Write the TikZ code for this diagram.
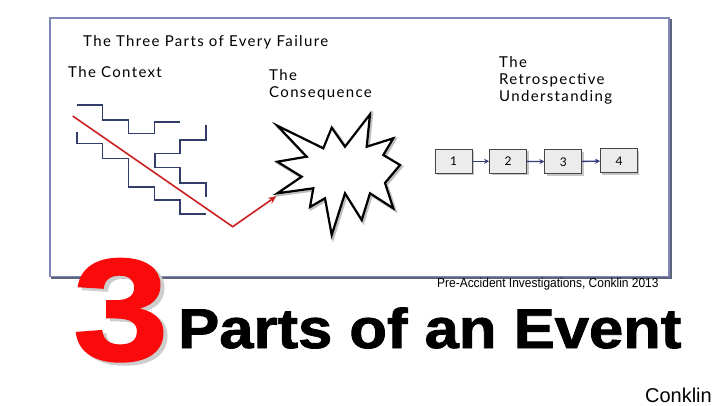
\documentclass[tikz,border=0pt]{standalone}
\usepackage{fontspec}
\setmainfont{Lato}[LetterSpace=9]
\newfontfamily\arialf{Liberation Sans}
\newfontfamily\blackf{Liberation Sans Bold}[FakeBold=1.5]
\usetikzlibrary{arrows.meta}
\definecolor{stairc}{RGB}{50,62,105}
\definecolor{redc}{RGB}{205,32,32}
\definecolor{framec}{RGB}{125,135,185}
\definecolor{frameshadow}{RGB}{95,100,120}
\definecolor{boxfill}{RGB}{236,236,236}
\definecolor{boxdraw}{RGB}{70,70,70}
\definecolor{arrowc}{RGB}{50,62,125}
\definecolor{bigred}{RGB}{250,10,10}
\definecolor{bigshadow}{RGB}{205,205,205}
\begin{document}
\begin{tikzpicture}[x=1pt,y=-1pt,
  stair/.style={draw=stairc, line width=1.6pt},
  label/.style={anchor=north west, align=left, inner sep=0pt, font=\fontsize{15}{17}\selectfont},
  stepnum/.style={draw=boxdraw, fill=boxfill, line width=0.8pt, minimum width=37pt, minimum height=24pt, inner sep=0pt, font=\fontsize{12}{12}\selectfont},
  stepshadow/.style={fill=gray!45, minimum width=37pt, minimum height=24pt, inner sep=0pt},
  flow/.style={draw=arrowc, line width=1.4pt, -{Stealth[length=5pt,width=5pt]}},
  redarrow/.style={draw=redc, line width=1.6pt, -{Stealth[length=8pt,width=7pt]}}]
\useasboundingbox (0,0) rectangle (720,405);
\fill[white] (0,0) rectangle (720,405);
% frame
\draw[draw=frameshadow, line width=2pt] (52,20) rectangle (670.5,278);
\draw[draw=framec, fill=white, line width=1.5pt] (50,18) rectangle (669,276.5);
% texts
\node[label] (title) at (83,35) {The Three Parts of Every Failure};
\node[label] (context) at (68,66) {The Context};
\node[label] (conseq) at (269,69) {The\\Consequence};
\node[label] (retro) at (499,56) {The\\Retrospective\\Understanding};
% stairs
\draw[stair] (77.3,105) -- (102.3,105) -- (102.3,120) -- (128.3,120) -- (128.3,133.3) -- (154.3,133.3) -- (154.3,121.7) -- (180,121.7);
\draw[stair] (76.7,131.7) -- (76.7,143.3) -- (102.3,143.3) -- (102.3,158.3) -- (128.3,158.3) -- (128.3,186.7) -- (154.3,186.7) -- (154.3,200) -- (180,200) -- (180,214) -- (205.7,214);
\draw[stair] (205.7,125) -- (205.7,140) -- (180,140) -- (180,153.3) -- (155,153.3) -- (155,167.3) -- (180,167.3) -- (180,182.7) -- (205.7,182.7) -- (205.7,197.3);
% starburst
\coordinate (boom) at (277.3,193.3);
\draw[gray!50, line width=3pt, line join=miter, shift={(1.5,1.5)}] (277.3,125.7) -- (323.3,148.3) -- (331.7,127.7) -- (345,146.7) -- (370,114.3) -- (366.7,146.7) -- (393.3,138.3) -- (383.3,155) -- (400,165) -- (385,183) -- (393.3,208.3) -- (370,193.3) -- (361.7,220) -- (345,193.3) -- (331.7,235) -- (325,198.3) -- (310,207) -- (313.3,188.3) -- (277.3,193.3) -- (301.7,176.7) -- (277.3,161.7) -- (306.7,156.7) -- cycle;
\draw[black, fill=white, line width=2.2pt, line join=miter] (277.3,125.7) -- (323.3,148.3) -- (331.7,127.7) -- (345,146.7) -- (370,114.3) -- (366.7,146.7) -- (393.3,138.3) -- (383.3,155) -- (400,165) -- (385,183) -- (393.3,208.3) -- (370,193.3) -- (361.7,220) -- (345,193.3) -- (331.7,235) -- (325,198.3) -- (310,207) -- (313.3,188.3) -- (boom) -- (301.7,176.7) -- (277.3,161.7) -- (306.7,156.7) -- cycle;
% red arrow
\coordinate (start) at (72.7,116);
\coordinate (kink) at (232.7,226.7);
\draw[redarrow] (start) -- (kink) -- ([shift={(-1,3)}]boom);
% steps
\node[stepshadow] at (455.5,163) {};
\node[stepshadow] at (510,163) {};
\node[stepshadow] at (565,163.5) {};
\node[stepshadow] at (620.8,162.6) {};
\node[stepnum] (s1) at (453.7,161.3) {1};
\node[stepnum] (s2) at (508,161.3) {2};
\node[stepnum] (s3) at (563.3,161.7) {3};
\node[stepnum] (s4) at (619,160.8) {4};
\draw[flow] (s1) -- (s2);
\draw[flow] (s2) -- (s3);
\draw[flow] (s3) -- (s4);
% bottom texts
\node[anchor=base west, inner sep=0pt, font=\arialf\fontsize{13}{13}\selectfont, xscale=0.92] (cite) at (437,287) {Pre-Accident Investigations, Conklin 2013};
\node[anchor=base west, inner sep=0pt, font=\blackf\fontsize{145}{145}\selectfont, xscale=1.18] (three) at (73,360) {\makebox[0pt][l]{\hspace{3.4pt}\raisebox{-3pt}{\textcolor{bigshadow}{3}}}\textcolor{bigred}{3}};
\node[anchor=base west, inner sep=0pt, font=\blackf\fontsize{56}{56}\selectfont, xscale=1.1] (headline) at (178,348) {Parts of an Event};
\node[anchor=base east, inner sep=0pt, font=\arialf\fontsize{20}{20}\selectfont] (author) at (712,402) {Conklin};
\end{tikzpicture}
\end{document}
